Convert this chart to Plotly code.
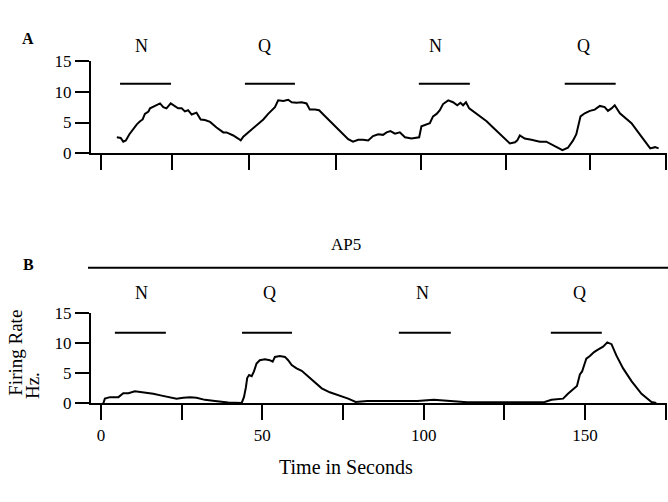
import plotly.graph_objects as go

# ---------------- data ----------------
# Panel A (control): time (s) and firing rate (Hz)
a_time = [4.9, 6.1, 6.9, 7.7, 8.8, 10.0, 11.1, 12.1, 12.9, 13.6, 14.7, 15.2, 16.7, 18.3,
          19.3, 20.3, 21.6, 22.9, 23.9, 25.0, 26.0, 27.0, 28.1, 29.6, 30.9, 32.2, 33.8,
          35.8, 37.9, 38.9, 41.0, 42.5, 43.3, 44.1, 45.6, 47.2, 48.7, 50.3, 51.8, 52.9,
          53.9, 54.9, 56.5, 58.0, 59.1, 60.6, 62.2, 63.7, 64.7, 66.3, 67.6, 68.9, 70.4,
          72.0, 73.5, 75.0, 76.6, 78.1, 79.7, 81.2, 82.8, 84.3, 85.9, 87.4, 88.5, 89.7,
          91.1, 92.6, 94.2, 96.2, 98.6, 99.3, 100.9, 101.9, 102.9, 104.0, 105.0, 106.0,
          107.6, 109.1, 110.4, 111.4, 112.2, 113.1, 114.1, 115.3, 117.4, 119.5, 121.5,
          123.6, 125.7, 126.7, 128.3, 129.0, 129.8, 131.3, 133.4, 136.0, 138.0, 140.1,
          141.2, 143.0, 144.7, 146.3, 147.3, 148.1, 148.6, 149.9, 151.5, 153.0, 154.6,
          156.1, 157.1, 158.2, 159.2, 160.8, 162.8, 164.4, 166.5, 168.1, 170.2, 171.7,
          172.8]
a_rate = [2.6, 2.5, 1.9, 2.1, 3.1, 4.0, 4.7, 5.2, 5.5, 6.4, 6.8, 7.3, 7.7, 8.1,
          7.5, 7.3, 8.1, 7.7, 7.3, 7.3, 6.8, 7.0, 6.3, 6.6, 5.5, 5.4, 5.1,
          4.2, 3.4, 3.4, 2.9, 2.4, 2.1, 2.7, 3.4, 4.0, 4.7, 5.5, 6.4, 6.9,
          7.5, 8.6, 8.5, 8.7, 8.3, 8.2, 8.3, 8.1, 7.1, 7.1, 7.0, 6.3, 5.5,
          4.7, 3.9, 3.1, 2.3, 1.9, 2.2, 2.2, 2.1, 2.8, 3.1, 3.0, 3.4, 3.6,
          3.2, 3.4, 2.6, 2.4, 2.6, 4.4, 4.7, 4.9, 6.0, 6.4, 7.0, 8.0,
          8.6, 8.3, 7.8, 8.2, 7.8, 8.3, 7.3, 6.8, 6.0, 5.2, 4.2,
          3.1, 2.1, 1.6, 1.8, 2.1, 2.9, 2.4, 2.2, 1.9, 1.9, 1.3,
          0.9, 0.5, 0.9, 2.1, 3.1, 4.9, 6.0, 6.5, 6.9, 7.1, 7.7,
          7.5, 6.9, 7.3, 7.8, 6.5, 5.6, 4.9, 3.4, 2.3, 0.8, 1.0,
          0.8]

# Panel B (AP5): time (s) and firing rate (Hz)
b_time = [0.7, 1.2, 2.8, 5.4, 6.9, 8.5, 10.5, 13.1, 16.2, 18.8, 21.9, 23.4, 25.5, 27.6,
          29.6, 32.2, 35.3, 37.4, 39.4, 43.6, 44.3, 44.9, 45.3, 45.9, 46.7, 47.4, 48.2,
          49.2, 50.8, 52.3, 53.2, 53.9, 55.4, 57.0, 58.0, 59.1, 60.6, 62.2, 64.2, 66.3,
          68.4, 70.9, 74.0, 76.6, 78.9, 82.5, 88.7, 98.0, 103.1, 108.3, 113.5, 134.1,
          137.5, 139.6, 143.2, 144.7, 146.3, 147.5, 148.4, 149.1, 149.9, 150.4, 151.5,
          152.8, 154.0, 155.6, 156.9, 158.2, 159.7, 161.8, 164.4, 167.5, 170.6, 172.1]
b_rate = [0.0, 0.8, 1.05, 1.05, 1.7, 1.7, 2.0, 1.85, 1.6, 1.3, 0.95, 0.8, 0.95, 1.05,
          0.95, 0.6, 0.4, 0.25, 0.15, 0.1, 1.05, 2.65, 4.2, 4.7, 4.5, 5.3, 6.6,
          7.15, 7.3, 7.15, 6.9, 7.7, 7.85, 7.7, 7.15, 6.35, 5.8, 5.4, 4.5, 3.45,
          2.5, 1.85, 1.3, 0.8, 0.25, 0.4, 0.4, 0.4, 0.6, 0.4, 0.2, 0.2,
          0.25, 0.6, 0.8, 1.6, 2.4, 2.9, 4.8, 5.3, 6.6, 7.4, 7.85,
          8.5, 8.9, 9.4, 10.1, 9.8, 7.95, 5.8, 3.7, 1.6, 0.25, 0.1]

# stimulus periods (N / Q) per panel
stim_labels = ["N", "Q", "N", "Q"]
a_stim_start = [5.9, 44.6, 98.5, 143.7]
a_stim_end = [21.7, 60.1, 114.3, 159.5]
a_stim_level = 11.3
a_label_x = [12.4, 50.8, 103.8, 149.6]

b_stim_start = [4.3, 43.7, 92.3, 139.4]
b_stim_end = [20.1, 59.2, 108.4, 155.2]
b_stim_level = 11.7
b_label_x = [12.4, 52.3, 99.7, 148.4]

# axis ticks
y_ticks = [0, 5, 10, 15]
a_x_ticks = [0, 22.0, 45.8, 72.8, 99.1, 125.5, 151.5, 175.2]
b_x_ticks = [0, 25, 50, 75, 100, 125, 150, 175]
b_x_ticklabels = ["0", "", "50", "", "100", "", "150", ""]

# ---------------- figure ----------------
W, H = 668, 502
FONT = "Liberation Serif"
BLACK = "#000000"


def px(x):
    return x / W


def py(y):
    return 1 - y / H


x_range = [-3.1, 175.4]
x_domain = [px(91), px(667)]

fig = go.Figure()

fig.add_trace(go.Scatter(x=a_time, y=a_rate, mode="lines",
                         line=dict(color=BLACK, width=2), xaxis="x", yaxis="y",
                         showlegend=False, hoverinfo="skip"))
fig.add_trace(go.Scatter(x=b_time, y=b_rate, mode="lines",
                         line=dict(color=BLACK, width=2), xaxis="x2", yaxis="y2",
                         showlegend=False, hoverinfo="skip"))

# stimulus bars
for s, e in zip(a_stim_start, a_stim_end):
    fig.add_trace(go.Scatter(x=[s, e], y=[a_stim_level, a_stim_level], mode="lines",
                             line=dict(color=BLACK, width=2), xaxis="x", yaxis="y",
                             showlegend=False, hoverinfo="skip", cliponaxis=False))
for s, e in zip(b_stim_start, b_stim_end):
    fig.add_trace(go.Scatter(x=[s, e], y=[b_stim_level, b_stim_level], mode="lines",
                             line=dict(color=BLACK, width=2), xaxis="x2", yaxis="y2",
                             showlegend=False, hoverinfo="skip", cliponaxis=False))

annotations = []
for lab, x in zip(stim_labels, a_label_x):
    annotations.append(dict(x=x, y=py(26), xref="x", yref="paper", text=lab,
                            showarrow=False, font=dict(family=FONT, size=18, color=BLACK)))
for lab, x in zip(stim_labels, b_label_x):
    annotations.append(dict(x=x, y=py(295), xref="x2", yref="paper", text=lab,
                            showarrow=False, font=dict(family=FONT, size=18, color=BLACK)))

annotations += [
    dict(x=px(20), y=py(20), xref="paper", yref="paper", text="<b>A</b>", showarrow=False,
         font=dict(family=FONT, size=16, color=BLACK)),
    dict(x=px(21), y=py(266), xref="paper", yref="paper", text="<b>B</b>", showarrow=False,
         font=dict(family=FONT, size=16, color=BLACK)),
    dict(x=px(346), y=py(245), xref="paper", yref="paper", text="AP5", showarrow=False,
         font=dict(family=FONT, size=17, color=BLACK)),
    dict(x=px(346), y=py(490), xref="paper", yref="paper", text="Time in Seconds",
         showarrow=False, font=dict(family=FONT, size=20, color=BLACK)),
    dict(x=px(16), y=py(404), xref="paper", yref="paper", text="Firing Rate",
         showarrow=False, textangle=-90, xanchor="center", yanchor="bottom",
         font=dict(family=FONT, size=19, color=BLACK)),
    dict(x=px(32), y=py(408), xref="paper", yref="paper", text="Hz.",
         showarrow=False, textangle=-90, xanchor="center", yanchor="bottom",
         font=dict(family=FONT, size=19, color=BLACK)),
]

shapes = [dict(type="line", xref="paper", yref="paper", x0=px(88), x1=1.0,
               y0=py(269), y1=py(269), line=dict(color=BLACK, width=2))]

axis_common = dict(showline=True, linecolor=BLACK, linewidth=2, ticks="outside",
                   tickcolor=BLACK, tickwidth=2, showgrid=False, zeroline=False,
                   tickfont=dict(family=FONT, size=17, color=BLACK))

fig.update_layout(
    width=W, height=H, margin=dict(l=0, r=0, t=0, b=0),
    paper_bgcolor="white", plot_bgcolor="white", showlegend=False,
    annotations=annotations, shapes=shapes,
    xaxis=dict(domain=x_domain, range=x_range, anchor="y", tickmode="array",
               tickvals=a_x_ticks, showticklabels=False, ticklen=15, **axis_common),
    yaxis=dict(domain=[py(150), py(54)], range=[0, 15], anchor="x", tickmode="array",
               tickvals=y_ticks, ticklen=14, **axis_common),
    xaxis2=dict(domain=x_domain, range=x_range, anchor="y2", tickmode="array",
                tickvals=b_x_ticks, ticktext=b_x_ticklabels, ticklen=15, **axis_common),
    yaxis2=dict(domain=[py(410), py(315.7)], range=[0, 15], anchor="x2", tickmode="array",
                tickvals=y_ticks, ticklen=14, **axis_common),
)

fig.write_html("out.html")
